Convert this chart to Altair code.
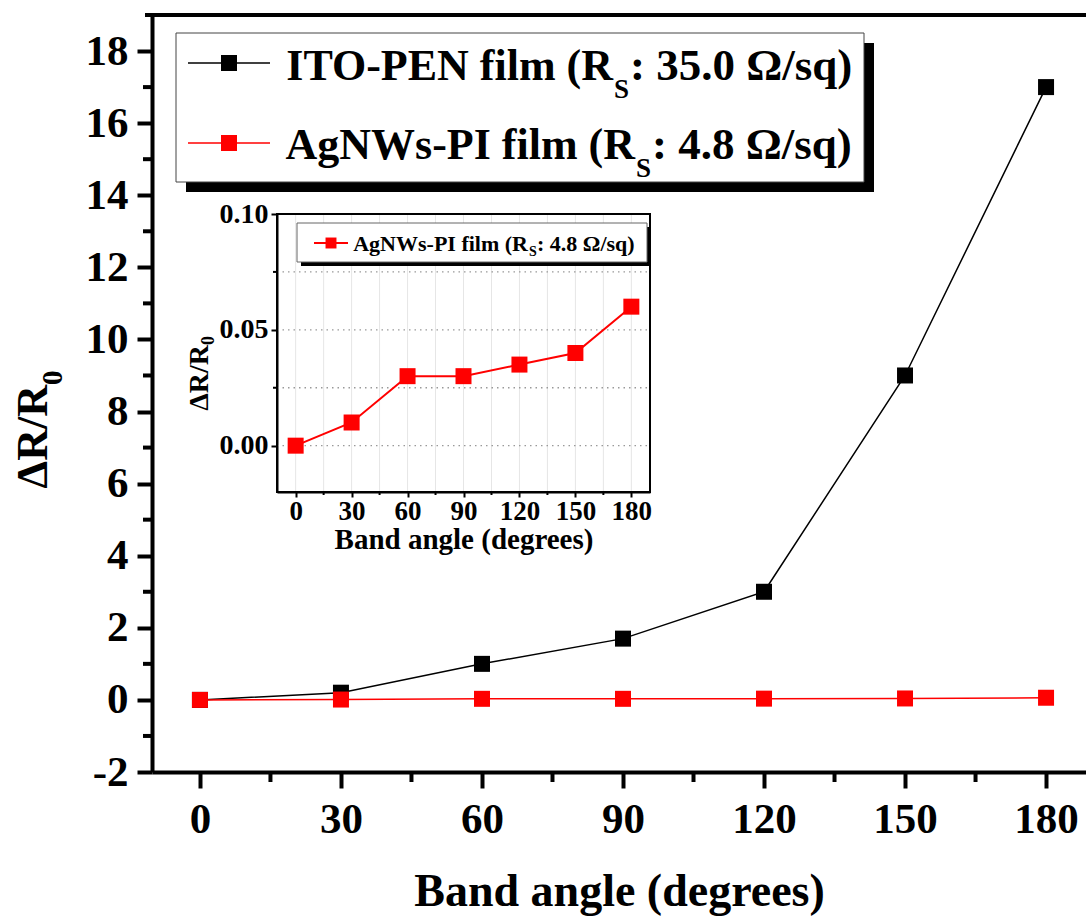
import altair as alt
import pandas as pd

# ---------------- data ----------------
angles = [0, 30, 60, 90, 120, 150, 180]
ito_pen = [0.0, 0.2, 1.0, 1.7, 3.0, 9.0, 17.0]
agnws_pi = [0.0, 0.01, 0.03, 0.03, 0.035, 0.04, 0.06]

legend_main = [("ITO-PEN film (R", "S", ": 35.0 \u03a9/sq)"),
               ("AgNWs-PI film (R", "S", ": 4.8 \u03a9/sq)")]
legend_inset = ("AgNWs-PI film (R", "S", ": 4.8 \u03a9/sq)")
x_title = "Band angle (degrees)"
y_title = ("\u0394R/R", "0")

main_x_major = [0, 30, 60, 90, 120, 150, 180]
main_x_minor = [15, 45, 75, 105, 135, 165]
main_y_major = [-2, 0, 2, 4, 6, 8, 10, 12, 14, 16, 18]
main_y_minor = [-1, 1, 3, 5, 7, 9, 11, 13, 15, 17]
inset_x_major = [0, 30, 60, 90, 120, 150, 180]
inset_x_minor = [15, 45, 75, 105, 135, 165]
inset_y_major = [0.0, 0.05, 0.10]
inset_y_minor = [0.025, 0.075]
inset_hgrid = [0.0, 0.025, 0.05, 0.075]
inset_vgrid = [0, 15, 30, 45, 60, 75, 90, 105, 120, 135, 150, 165, 180]

# ---------------- layout ----------------
FONT = "Liberation Serif"
LEFT, TOP = 152, 15
W, H = 934, 757
BOTTOM = 920 - TOP - H


def X(a):
    return a - LEFT


def Y(a):
    return a - TOP


one = pd.DataFrame({"k": [0]})

xs = alt.Scale(domain=[-10.2, 188.5], nice=False, zero=False)
ys = alt.Scale(domain=[-2, 19], nice=False, zero=False)

IX0, IX1, IY0, IY1 = X(277), X(650), Y(214), Y(492)
ixs = alt.Scale(domain=[-10, 190], range=[IX0, IX1], nice=False, zero=False)
iys = alt.Scale(domain=[-0.02, 0.10], range=[IY1, IY0], nice=False, zero=False)

ax_x = alt.Axis(values=main_x_major, title=x_title, grid=False, domainWidth=4,
                domainColor="black", tickColor="black", tickWidth=4, tickSize=16,
                labelFont=FONT, labelFontSize=43, labelFontWeight="bold",
                labelColor="black", labelPadding=10, labelFlush=False,
                labelOverlap=False, titleFont=FONT, titleFontSize=46,
                titleFontWeight="bold", titleColor="black", titlePadding=28,
                format="d")
ax_y = alt.Axis(values=main_y_major, title=None, grid=False, domainWidth=4,
                domainColor="black", tickColor="black", tickWidth=4, tickSize=15,
                labelFont=FONT, labelFontSize=43, labelFontWeight="bold",
                labelColor="black", labelPadding=9, labelFlush=False,
                labelOverlap=False, labelExpr="'' + datum.value")

iax_x = alt.Axis(orient="bottom", offset=-(H - IY1), values=inset_x_major,
                 title=x_title, grid=False, domainWidth=2, domainColor="black",
                 tickColor="black", tickWidth=2, tickSize=5, labelFont=FONT,
                 labelFontSize=27, labelFontWeight="bold", labelColor="black",
                 labelPadding=1, labelFlush=False, labelOverlap=False,
                 titleFont=FONT, titleFontSize=29, titleFontWeight="bold",
                 titleColor="black", titlePadding=1, format="d")
iax_y = alt.Axis(orient="left", offset=-IX0, values=inset_y_major, title=None,
                 grid=False, domainWidth=2, domainColor="black", tickColor="black",
                 tickWidth=2, tickSize=6, labelFont=FONT, labelFontSize=28,
                 labelFontWeight="bold", labelColor="black", labelPadding=3,
                 labelFlush=False, labelOverlap=False, format=".2f")

df_ito = pd.DataFrame({"angle": angles, "v": ito_pen})
df_ag = pd.DataFrame({"angle": angles, "v": agnws_pi})

MX = alt.X("angle:Q", scale=xs, axis=ax_x)
MY = alt.Y("v:Q", scale=ys, axis=ax_y)


def txt(s, x, y, size, align="left", angle=0):
    kw = dict(text=s, font=FONT, fontWeight="bold", fontSize=size,
              color="black", align=align, baseline="alphabetic")
    if angle:
        kw["angle"] = angle
    return alt.Chart(one).mark_text(**kw).encode(x=alt.value(x), y=alt.value(y))


# ---------------- main layer ----------------
main_layers = [
    alt.Chart(df_ito).mark_line(color="black", strokeWidth=1.5).encode(x=MX, y=MY),
    alt.Chart(df_ito).mark_point(shape="square", filled=True, size=256,
                                 color="black", opacity=1).encode(x=MX, y=MY),
    alt.Chart(df_ag).mark_line(color="#ff0000", strokeWidth=1.5).encode(x=MX, y=MY),
    alt.Chart(df_ag).mark_point(shape="square", filled=True, size=256,
                                color="#ff0000", opacity=1).encode(x=MX, y=MY),
    alt.Chart(pd.DataFrame({"t": main_x_minor})).mark_rule(
        color="black", strokeWidth=4).encode(
        x=alt.X("t:Q", scale=xs, axis=ax_x), y=alt.value(H), y2=alt.value(H + 10)),
    alt.Chart(pd.DataFrame({"t": main_y_minor})).mark_rule(
        color="black", strokeWidth=4).encode(
        y=alt.Y("t:Q", scale=ys, axis=ax_y), x=alt.value(0), x2=alt.value(-9)),
    alt.Chart(one).mark_rule(color="black", strokeWidth=4).encode(
        x=alt.value(-7), x2=alt.value(W), y=alt.value(0)),
    # y title
    txt(y_title[0], X(47), Y(385), 44, align="right", angle=270),
    txt(y_title[1], X(62), Y(385), 29, align="left", angle=270),
    # legend
    alt.Chart(one).mark_rect(color="black").encode(
        x=alt.value(X(186)), x2=alt.value(X(874)), y=alt.value(Y(43)), y2=alt.value(Y(192))),
    alt.Chart(one).mark_rect(fill="white", stroke="#444444", strokeWidth=1).encode(
        x=alt.value(X(176)), x2=alt.value(X(864)), y=alt.value(Y(33)), y2=alt.value(Y(182))),
]
leg_cols = ["black", "#ff0000"]
leg_sym_y = [63, 143]
leg_base_y = [80, 159]
leg_junction = [613, 635]
for i in range(2):
    c = leg_cols[i]
    main_layers.append(alt.Chart(one).mark_rule(color=c, strokeWidth=1.5).encode(
        x=alt.value(X(188)), x2=alt.value(X(270)), y=alt.value(Y(leg_sym_y[i]))))
    main_layers.append(alt.Chart(one).mark_point(shape="square", filled=True, size=256,
                                                 color=c, opacity=1).encode(
        x=alt.value(X(229)), y=alt.value(Y(leg_sym_y[i]))))
    a, s, b = legend_main[i]
    j = leg_junction[i]
    main_layers.append(txt(a, X(j), Y(leg_base_y[i]), 44, align="right"))
    main_layers.append(txt(s, X(j + 1), Y(leg_base_y[i] + 18), 27))
    main_layers.append(txt(b, X(j + 17), Y(leg_base_y[i]), 45))

main = alt.layer(*main_layers)

# ---------------- inset layer ----------------
IXE = alt.X("angle:Q", scale=ixs, axis=iax_x)
IYE = alt.Y("v:Q", scale=iys, axis=iax_y)
inset_layers = [
    alt.Chart(pd.DataFrame({"t": inset_vgrid})).mark_rule(
        color="#e6e6e6", strokeWidth=1).encode(
        x=alt.X("t:Q", scale=ixs, axis=iax_x), y=alt.value(IY0), y2=alt.value(IY1)),
    alt.Chart(pd.DataFrame({"t": inset_hgrid})).mark_rule(
        color="#999999", strokeWidth=1.3, strokeDash=[1.5, 4]).encode(
        y=alt.Y("t:Q", scale=iys, axis=iax_y), x=alt.value(IX0), x2=alt.value(IX1)),
    alt.Chart(one).mark_rect(fillOpacity=0, stroke="black", strokeWidth=2).encode(
        x=alt.value(IX0), x2=alt.value(IX1), y=alt.value(IY0), y2=alt.value(IY1)),
    alt.Chart(pd.DataFrame({"t": inset_x_minor})).mark_rule(
        color="black", strokeWidth=2).encode(
        x=alt.X("t:Q", scale=ixs, axis=iax_x), y=alt.value(IY1), y2=alt.value(IY1 + 3)),
    alt.Chart(pd.DataFrame({"t": inset_y_minor})).mark_rule(
        color="black", strokeWidth=2).encode(
        y=alt.Y("t:Q", scale=iys, axis=iax_y), x=alt.value(IX0), x2=alt.value(IX0 - 4)),
    alt.Chart(df_ag).mark_line(color="#ff0000", strokeWidth=2).encode(x=IXE, y=IYE),
    alt.Chart(df_ag).mark_point(shape="square", filled=True, size=256,
                                color="#ff0000", opacity=1).encode(x=IXE, y=IYE),
    # inset y title
    txt(y_title[0], X(208), Y(345), 28, align="right", angle=270),
    txt(y_title[1], X(214), Y(345), 18, align="left", angle=270),
    # inset legend
    alt.Chart(one).mark_rect(color="black").encode(
        x=alt.value(X(301)), x2=alt.value(X(651)), y=alt.value(Y(227)), y2=alt.value(Y(266))),
    alt.Chart(one).mark_rect(fill="white", stroke="#666666", strokeWidth=1).encode(
        x=alt.value(X(297)), x2=alt.value(X(647)), y=alt.value(Y(223)), y2=alt.value(Y(262))),
    alt.Chart(one).mark_rule(color="#ff0000", strokeWidth=2).encode(
        x=alt.value(X(314)), x2=alt.value(X(348)), y=alt.value(Y(243))),
    alt.Chart(one).mark_point(shape="square", filled=True, size=120,
                              color="#ff0000", opacity=1).encode(
        x=alt.value(X(331)), y=alt.value(Y(243))),
    txt(legend_inset[0], X(528), Y(251), 22, align="right"),
    txt(legend_inset[1], X(529), Y(256), 14),
    txt(legend_inset[2], X(537), Y(251), 22),
]
inset = alt.layer(*inset_layers)

chart = alt.layer(main, inset).resolve_scale(
    x="independent", y="independent"
).properties(
    width=W, height=H,
    padding={"left": LEFT, "top": TOP, "right": 0, "bottom": BOTTOM},
    autosize=alt.AutoSizeParams(type="none"),
    background="white",
).configure_view(stroke="transparent")

chart.save("out.html", embed_options={"renderer": "svg", "actions": False})
